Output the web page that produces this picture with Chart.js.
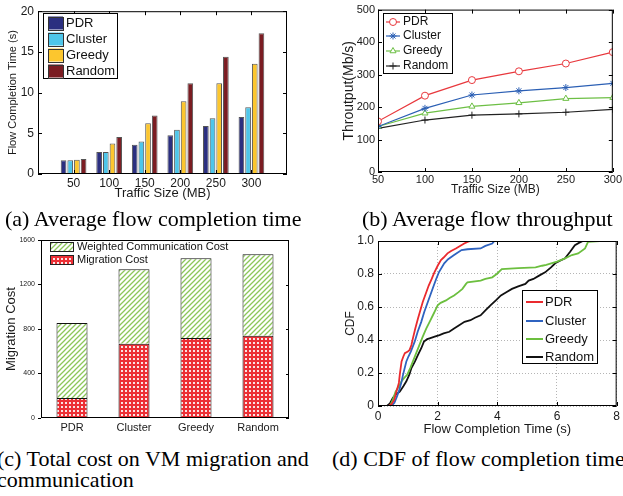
<!DOCTYPE html>
<html>
<head>
<meta charset="utf-8">
<script src="https://cdn.jsdelivr.net/npm/chart.js@4.4.0/dist/chart.umd.min.js"></script>
<style>
  body { margin: 0; background: #fff; width: 623px; height: 496px; overflow: hidden; position: relative; }
  canvas { position: absolute; }
  .cap { position: absolute; font-family: "Liberation Serif", "Times New Roman", serif; font-size: 22px; line-height: 21px; color: #000; white-space: nowrap; }
</style>
</head>
<body>
<canvas id="fct" width="310" height="200" style="left:0;top:0"></canvas>
<canvas id="tput" width="313" height="200" style="left:310px;top:0"></canvas>
<canvas id="cost" width="310" height="215" style="left:0;top:225px"></canvas>
<canvas id="cdf" width="313" height="215" style="left:310px;top:225px"></canvas>
<div class="cap" style="left:5px;top:208px">(a) Average flow completion time</div>
<div class="cap" style="left:362px;top:208px">(b) Average flow throughput</div>
<div class="cap" style="left:-3px;top:448px">(c) Total cost on VM migration and<br>communication</div>
<div class="cap" style="left:332px;top:448px">(d) CDF of flow completion time</div>
<script>
// data
const trafficSizes = [50, 100, 150, 200, 250, 300];
const schemes = ["PDR", "Cluster", "Greedy", "Random"];

// (a) flow completion time (s)
const fctPDR = [1.7, 2.7, 3.6, 4.75, 5.9, 7.0];
const fctCluster = [1.7, 2.7, 4.0, 5.45, 6.85, 8.2];
const fctGreedy = [1.75, 3.75, 6.25, 8.95, 11.15, 13.55];
const fctRandom = [1.85, 4.55, 7.2, 11.15, 14.4, 17.3];

// (b) throughput (Mb/s)
const tputPDR = [156, 235, 283, 310, 334, 369];
const tputCluster = [140, 196, 237, 250, 260, 273];
const tputGreedy = [140, 181, 202, 213, 226, 229];
const tputRandom = [134, 160, 175, 179, 184, 193];

// (c) cost
const costMigration = [180, 668, 718, 739];
const costCommunication = [673, 670, 719, 734];

// (d) CDF points [time (s), cdf]
const cdfPDR = [[0.35,0],[0.45,0.01],[0.55,0.04],[0.62,0.09],[0.7,0.14],[0.73,0.19],[0.79,0.27],[0.85,0.3],[0.9,0.32],[1.0,0.33],[1.06,0.34],[1.12,0.37],[1.17,0.41],[1.25,0.47],[1.34,0.53],[1.42,0.58],[1.5,0.63],[1.6,0.68],[1.7,0.73],[1.8,0.77],[1.89,0.81],[2.0,0.85],[2.11,0.885],[2.2,0.9],[2.33,0.925],[2.45,0.94],[2.61,0.955],[2.75,0.97],[2.89,0.985],[3.0,0.995],[3.1,1.0]];
const cdfCluster = [[0.45,0],[0.55,0.02],[0.62,0.05],[0.7,0.09],[0.78,0.14],[0.84,0.19],[0.95,0.27],[1.02,0.3],[1.1,0.33],[1.23,0.39],[1.33,0.45],[1.45,0.51],[1.55,0.57],[1.67,0.63],[1.77,0.68],[1.87,0.73],[1.95,0.77],[2.04,0.81],[2.22,0.865],[2.35,0.89],[2.55,0.915],[2.8,0.945],[3.0,0.95],[3.44,0.955],[3.6,0.97],[3.83,0.985],[3.9,1.0]];
const cdfGreedy = [[0.4,0],[0.5,0.04],[0.59,0.087],[0.7,0.12],[0.79,0.15],[0.88,0.17],[0.98,0.19],[1.08,0.23],[1.17,0.27],[1.28,0.32],[1.39,0.37],[1.5,0.42],[1.62,0.47],[1.73,0.51],[1.84,0.55],[1.92,0.58],[2.0,0.61],[2.1,0.625],[2.28,0.64],[2.4,0.655],[2.55,0.67],[2.7,0.69],[2.83,0.71],[2.95,0.74],[3.0,0.75],[3.44,0.76],[3.6,0.77],[3.83,0.78],[3.98,0.8],[4.15,0.83],[4.7,0.835],[5.28,0.84],[5.5,0.85],[5.64,0.855],[6.0,0.875],[6.27,0.895],[6.5,0.915],[6.71,0.925],[6.94,0.955],[7.04,0.995],[7.43,1.0]];
const cdfRandom = [[0.3,0],[0.4,0.016],[0.5,0.05],[0.6,0.07],[0.73,0.087],[0.85,0.12],[0.95,0.15],[1.05,0.19],[1.12,0.23],[1.24,0.27],[1.34,0.31],[1.45,0.35],[1.54,0.39],[1.65,0.405],[1.73,0.41],[1.9,0.42],[2.06,0.43],[2.2,0.44],[2.39,0.45],[2.55,0.47],[2.72,0.49],[2.9,0.51],[3.1,0.52],[3.25,0.535],[3.44,0.55],[3.6,0.58],[3.77,0.61],[3.95,0.64],[4.12,0.67],[4.3,0.69],[4.49,0.71],[4.7,0.725],[4.94,0.74],[5.05,0.76],[5.21,0.77],[5.4,0.79],[5.6,0.81],[5.8,0.84],[5.94,0.865],[6.1,0.88],[6.27,0.895],[6.44,0.935],[6.6,0.975],[6.75,0.99],[6.87,1.0]];

const FONT = '"Liberation Sans", Arial, sans-serif';
Chart.defaults.font.family = FONT;
Chart.defaults.color = '#1a1a1a';
Chart.defaults.animation = false;

const plainTick = v => String(v);

// box round the plot area plus inward ticks (matlab look)
const framePlugin = {
  id: 'frame',
  afterDatasetsDraw(chart, args, o) {
    const { ctx, chartArea: a, scales: { x, y } } = chart;
    const L = o.len || 4;
    ctx.save();
    ctx.strokeStyle = '#000';
    ctx.lineWidth = 1;
    ctx.beginPath();
    if (o.xTicks) {
      x.ticks.forEach(t => {
        const px = Math.round(x.getPixelForValue(t.value)) + 0.5;
        ctx.moveTo(px, a.bottom); ctx.lineTo(px, a.bottom - L);
        ctx.moveTo(px, a.top); ctx.lineTo(px, a.top + L);
      });
    }
    if (o.yTicks) {
      y.ticks.forEach(t => {
        const py = Math.round(y.getPixelForValue(t.value)) + 0.5;
        if (o.yTicks !== 'right') { ctx.moveTo(a.left, py); ctx.lineTo(a.left + L, py); }
        ctx.moveTo(a.right, py); ctx.lineTo(a.right - L, py);
      });
    }
    ctx.stroke();
    ctx.lineWidth = o.width || 1;
    ctx.strokeRect(a.left + 0.5, a.top + 0.5, a.right - a.left - 1, a.bottom - a.top - 1);
    ctx.restore();
  }
};

// legend drawn inside the plot
const boxLegend = {
  id: 'boxLegend',
  afterDraw(chart, args, o) {
    const ctx = chart.ctx;
    ctx.save();
    if (o.box) {
      const [bx, by, bw, bh] = o.box;
      ctx.fillStyle = '#fff';
      ctx.fillRect(bx, by, bw, bh);
      ctx.strokeStyle = '#000';
      ctx.lineWidth = 1;
      ctx.strokeRect(bx + 0.5, by + 0.5, bw, bh);
    }
    ctx.font = o.size + 'px ' + FONT;
    ctx.textBaseline = 'middle';
    o.order.forEach((di, k) => {
      const ds = chart.data.datasets[di];
      const yy = o.rows[k];
      const [m0, m1, mh] = o.mark;
      if (o.kind === 'swatch') {
        ctx.fillStyle = ds.backgroundColor;
        ctx.fillRect(m0, yy - mh / 2, m1 - m0, mh);
        ctx.strokeStyle = o.swatchBorder || '#333';
        ctx.lineWidth = 1;
        ctx.strokeRect(m0 + 0.5, Math.round(yy - mh / 2) + 0.5, m1 - m0, mh);
      } else {
        ctx.strokeStyle = ds.borderColor;
        ctx.lineWidth = o.lineWidth || ds.borderWidth;
        ctx.beginPath();
        ctx.moveTo(m0, yy); ctx.lineTo(m1, yy);
        ctx.stroke();
        if (o.points) {
          ctx.fillStyle = ds.pointBackgroundColor || ds.borderColor;
          ctx.lineWidth = 1;
          Chart.helpers.drawPoint(ctx, { pointStyle: ds.pointStyle, radius: ds.pointRadius, borderWidth: 1, rotation: 0 }, (m0 + m1) / 2, yy);
        }
      }
      ctx.fillStyle = '#111';
      ctx.fillText(ds.label, o.textX, yy);
    });
    ctx.restore();
  }
};

function hatchPattern() {
  const c = document.createElement('canvas');
  c.width = c.height = 5;
  const g = c.getContext('2d');
  g.fillStyle = '#fff'; g.fillRect(0, 0, 5, 5);
  g.strokeStyle = '#8cc65a'; g.lineWidth = 1.3;
  g.beginPath();
  g.moveTo(-1, 6); g.lineTo(6, -1);
  g.moveTo(-3, 3); g.lineTo(3, -3);
  g.moveTo(2, 8); g.lineTo(8, 2);
  g.stroke();
  return g.createPattern(c, 'repeat');
}
function crossPattern() {
  const c = document.createElement('canvas');
  c.width = c.height = 4;
  const g = c.getContext('2d');
  g.fillStyle = '#ec2f35'; g.fillRect(0, 0, 4, 4);
  g.fillStyle = '#fbe3e3';
  g.fillRect(1, 1, 2, 2);
  return g.createPattern(c, 'repeat');
}

// (a) average flow completion time
const fctSeries = [fctPDR, fctCluster, fctGreedy, fctRandom];
const fctColors = ['#2b2f80', '#4ec6ea', '#fcc62e', '#7b1c22'];
new Chart(document.getElementById('fct'), {
  type: 'bar',
  data: {
    datasets: schemes.map((s, i) => ({
      label: s,
      data: trafficSizes.map((x, j) => ({ x: x, y: fctSeries[i][j] })),
      backgroundColor: fctColors[i],
      borderColor: '#555',
      borderWidth: 1,
      categoryPercentage: 0.75,
      barPercentage: 0.85
    }))
  },
  options: {
    responsive: false,
    layout: { padding: { top: 6, right: 23, left: 0, bottom: 0 } },
    plugins: {
      legend: { display: false },
      tooltip: { enabled: false },
      frame: { xTicks: true, yTicks: true, len: 4 },
      boxLegend: { box: [43, 13, 74, 65], kind: 'swatch', mark: [48, 63, 13], rows: [23, 39, 55, 71], textX: 66, size: 13, order: [0, 1, 2, 3] }
    },
    scales: {
      x: {
        type: 'linear', min: 0, max: 350, offset: false,
        grid: { display: false, drawTicks: false }, border: { display: false },
        afterBuildTicks: s => { s.ticks = trafficSizes.map(v => ({ value: v })); },
        ticks: { padding: 2, font: { size: 12 }, callback: plainTick },
        title: { display: true, text: 'Traffic Size (MB)', font: { size: 13, lineHeight: 1 }, padding: { top: 0, bottom: 0 } },
        afterFit: s => { s.height = 26; }
      },
      y: {
        min: 0, max: 20,
        ticks: { stepSize: 5, padding: 4, font: { size: 12 }, callback: plainTick },
        grid: { display: false, drawTicks: false }, border: { display: false },
        title: { display: true, text: 'Flow Completion Time (s)', font: { size: 11 }, padding: { top: 6 } },
        afterFit: s => { s.width = 38; }
      }
    }
  },
  plugins: [framePlugin, boxLegend]
});

// (b) average flow throughput
const tputSeries = [tputPDR, tputCluster, tputGreedy, tputRandom];
const tputColors = ['#e8383d', '#2b5fb4', '#6dbf45', '#222222'];
const tputMarks = ['circle', 'star', 'triangle', 'cross'];
new Chart(document.getElementById('tput'), {
  type: 'line',
  data: {
    datasets: schemes.map((s, i) => ({
      label: s,
      data: trafficSizes.map((x, j) => ({ x: x, y: tputSeries[i][j] })),
      borderColor: tputColors[i],
      borderWidth: 1.2,
      pointStyle: tputMarks[i],
      pointRadius: 3.5,
      pointBorderWidth: 1,
      pointBackgroundColor: (i === 1 || i === 3) ? tputColors[i] : '#fff',
      tension: 0
    }))
  },
  options: {
    responsive: false,
    layout: { padding: { top: 7, right: 9, left: 0, bottom: 0 } },
    plugins: {
      legend: { display: false },
      tooltip: { enabled: false },
      frame: { xTicks: true, yTicks: true, len: 4 },
      boxLegend: { box: [73, 13, 69, 60], kind: 'line', points: true, mark: [76, 90, 0], rows: [22, 36, 51, 66], textX: 93, size: 12, order: [0, 1, 2, 3] }
    },
    scales: {
      x: {
        type: 'linear', min: 50, max: 300,
        grid: { display: false, drawTicks: false }, border: { display: false },
        ticks: { stepSize: 50, padding: 1, font: { size: 11 }, callback: plainTick },
        title: { display: true, text: 'Traffic Size (MB)', font: { size: 12, lineHeight: 1 }, padding: { top: 0, bottom: 4 } },
        afterFit: s => { s.height = 28; }
      },
      y: {
        min: 0, max: 500,
        ticks: { stepSize: 100, padding: 3, font: { size: 11 }, callback: plainTick },
        grid: { display: false, drawTicks: false }, border: { display: false },
        title: { display: true, text: 'Throutput(Mb/s)', font: { size: 14 }, padding: { top: 31 } },
        afterFit: s => { s.width = 68; }
      }
    }
  },
  plugins: [framePlugin, boxLegend]
});

// (c) total cost
new Chart(document.getElementById('cost'), {
  type: 'bar',
  data: {
    labels: schemes,
    datasets: [
      { label: 'Migration Cost', data: costMigration, backgroundColor: crossPattern(), borderColor: '#111', borderWidth: 1, barPercentage: 0.5, categoryPercentage: 1 },
      { label: 'Weighted Communication Cost', data: costCommunication, backgroundColor: hatchPattern(), borderColor: '#111', borderWidth: 1, barPercentage: 0.5, categoryPercentage: 1 }
    ]
  },
  options: {
    responsive: false,
    layout: { padding: { top: 15, right: 21, left: 0, bottom: 0 } },
    plugins: {
      legend: { display: false },
      tooltip: { enabled: false },
      frame: { yTicks: 'right', len: 3 },
      boxLegend: { kind: 'swatch', swatchBorder: '#222', mark: [50, 73, 9], rows: [21.5, 34.5], textX: 77, size: 11, order: [1, 0] }
    },
    scales: {
      x: {
        stacked: true,
        grid: { display: false, drawTicks: false }, border: { display: false },
        ticks: { padding: 3, font: { size: 11 } },
        afterFit: s => { s.height = 22; }
      },
      y: {
        stacked: true, min: 0, max: 1600,
        ticks: { stepSize: 400, padding: 3, font: { size: 7 }, callback: plainTick },
        grid: { drawOnChartArea: false, drawTicks: true, tickLength: 3, color: '#000' },
        border: { display: false },
        title: { display: true, text: 'Migration Cost', font: { size: 13 }, padding: { top: 4 } },
        afterFit: s => { s.width = 41; }
      }
    }
  },
  plugins: [framePlugin, boxLegend]
});

// (d) CDF of flow completion time
const cdfSeries = [cdfPDR, cdfCluster, cdfGreedy, cdfRandom];
const cdfColors = ['#ea2a2f', '#2f63c0', '#6cbf3f', '#111111'];
new Chart(document.getElementById('cdf'), {
  type: 'line',
  data: {
    datasets: schemes.map((s, i) => ({
      label: s,
      data: cdfSeries[i].map(p => ({ x: p[0], y: p[1] })),
      borderColor: cdfColors[i],
      borderWidth: 1.8,
      pointRadius: 0,
      tension: 0
    }))
  },
  options: {
    responsive: false,
    layout: { padding: { top: 16, right: 4, left: 0, bottom: 0 } },
    plugins: {
      legend: { display: false },
      tooltip: { enabled: false },
      frame: { xTicks: true, yTicks: true, len: 4 },
      boxLegend: { box: [212, 65, 75, 73], kind: 'line', lineWidth: 2, mark: [216, 233, 0], rows: [77, 96, 114, 132], textX: 235, size: 13, order: [0, 1, 2, 3] }
    },
    scales: {
      x: {
        type: 'linear', min: 0, max: 8,
        grid: { color: '#b5b5b5', drawTicks: false }, border: { display: false, dash: [1, 2] },
        ticks: { stepSize: 2, padding: 3, font: { size: 12 } },
        title: { display: true, text: 'Flow Completion Time (s)', font: { size: 13, lineHeight: 1 }, padding: { top: 0, bottom: 4 } },
        afterFit: s => { s.height = 34; }
      },
      y: {
        min: 0, max: 1,
        grid: { color: '#b5b5b5', drawTicks: false }, border: { display: false, dash: [1, 2] },
        ticks: { stepSize: 0.2, padding: 4, font: { size: 12 } },
        title: { display: true, text: 'CDF', font: { size: 12 }, padding: { top: 33 } },
        afterFit: s => { s.width = 68; }
      }
    }
  },
  plugins: [framePlugin, boxLegend]
});
</script>
</body>
</html>
